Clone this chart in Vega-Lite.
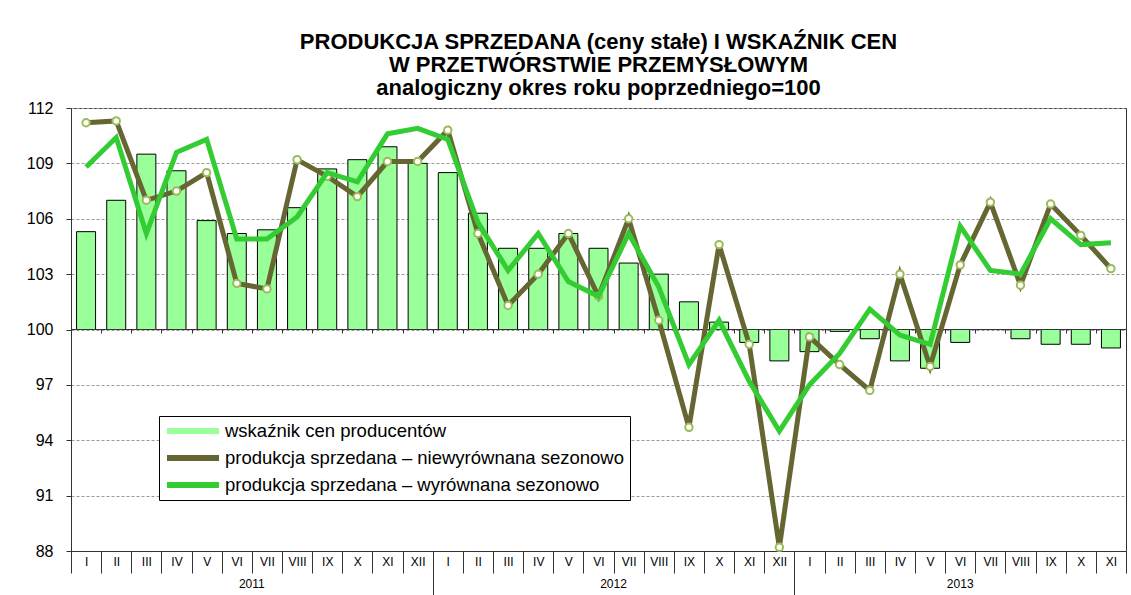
{
  "$schema": "https://vega.github.io/schema/vega-lite/v6.json",
  "width": 1055,
  "height": 443,
  "autosize": {"type": "none"},
  "padding": {"left": 71, "top": 108, "right": 5, "bottom": 44},
  "background": "white",
  "title": {
    "text": ["PRODUKCJA SPRZEDANA (ceny stałe)  I WSKAŹNIK CEN", "W PRZETWÓRSTWIE PRZEMYSŁOWYM"],
    "subtitle": "analogiczny okres roku poprzedniego=100",
    "font": "Liberation Sans", "fontSize": 22, "fontWeight": "bold", "color": "black",
    "subtitleFont": "Liberation Sans", "subtitleFontSize": 22, "subtitleFontWeight": "bold", "subtitleColor": "black",
    "lineHeight": 23, "subtitleLineHeight": 23, "subtitlePadding": 1,
    "anchor": "middle", "offset": 0
  },
  "config": {"view": {"stroke": "#333", "strokeWidth": 1}, "font": "Liberation Sans"},
  "data": {"values": [
    {"key": "2011-I", "prices": 105.3, "unadj": 111.2, "adj": 108.8},
    {"key": "2011-II", "prices": 107.0, "unadj": 111.3, "adj": 110.4},
    {"key": "2011-III", "prices": 109.5, "unadj": 107.0, "adj": 105.2},
    {"key": "2011-IV", "prices": 108.6, "unadj": 107.5, "adj": 109.6},
    {"key": "2011-V", "prices": 105.9, "unadj": 108.5, "adj": 110.3},
    {"key": "2011-VI", "prices": 105.2, "unadj": 102.5, "adj": 104.9},
    {"key": "2011-VII", "prices": 105.4, "unadj": 102.2, "adj": 104.9},
    {"key": "2011-VIII", "prices": 106.6, "unadj": 109.2, "adj": 106.1},
    {"key": "2011-IX", "prices": 108.7, "unadj": 108.3, "adj": 108.5},
    {"key": "2011-X", "prices": 109.2, "unadj": 107.2, "adj": 108.0},
    {"key": "2011-XI", "prices": 109.9, "unadj": 109.1, "adj": 110.6},
    {"key": "2011-XII", "prices": 109.0, "unadj": 109.1, "adj": 110.9},
    {"key": "2012-I", "prices": 108.5, "unadj": 110.8, "adj": 110.3},
    {"key": "2012-II", "prices": 106.3, "unadj": 105.2, "adj": 105.8},
    {"key": "2012-III", "prices": 104.4, "unadj": 101.3, "adj": 103.2},
    {"key": "2012-IV", "prices": 104.4, "unadj": 103.0, "adj": 105.2},
    {"key": "2012-V", "prices": 105.2, "unadj": 105.2, "adj": 102.6},
    {"key": "2012-VI", "prices": 104.4, "unadj": 101.8, "adj": 101.8},
    {"key": "2012-VII", "prices": 103.6, "unadj": 106.0, "adj": 105.2},
    {"key": "2012-VIII", "prices": 103.0, "unadj": 100.5, "adj": 102.3},
    {"key": "2012-IX", "prices": 101.5, "unadj": 94.7, "adj": 98.1},
    {"key": "2012-X", "prices": 100.4, "unadj": 104.6, "adj": 100.5},
    {"key": "2012-XI", "prices": 99.3, "unadj": 99.2, "adj": 97.2},
    {"key": "2012-XII", "prices": 98.3, "unadj": 88.2, "adj": 94.5},
    {"key": "2013-I", "prices": 98.8, "unadj": 99.6, "adj": 97.0},
    {"key": "2013-II", "prices": 99.9, "unadj": 98.1, "adj": 98.7},
    {"key": "2013-III", "prices": 99.5, "unadj": 96.7, "adj": 101.1},
    {"key": "2013-IV", "prices": 98.3, "unadj": 103.0, "adj": 99.7},
    {"key": "2013-V", "prices": 97.9, "unadj": 98.0, "adj": 99.2},
    {"key": "2013-VI", "prices": 99.3, "unadj": 103.5, "adj": 105.6},
    {"key": "2013-VII", "prices": 100.0, "unadj": 106.9, "adj": 103.2},
    {"key": "2013-VIII", "prices": 99.5, "unadj": 102.4, "adj": 103.0},
    {"key": "2013-IX", "prices": 99.2, "unadj": 106.8, "adj": 106.0},
    {"key": "2013-X", "prices": 99.2, "unadj": 105.1, "adj": 104.6},
    {"key": "2013-XI", "prices": 99.0, "unadj": 103.3, "adj": 104.7}
  ]},
  "resolve": {"axis": {"x": "independent"}},
  "layer": [
    {
      "mark": {"type": "bar", "stroke": "black", "strokeWidth": 1, "width": {"band": 0.63}},
      "encoding": {
        "x": {"field": "key", "type": "nominal", "sort": null,
          "scale": {"paddingInner": 0, "paddingOuter": 0},
          "axis": {"title": null, "orient": "bottom", "labelExpr": "split(datum.value,'-')[1]", "labelAngle": 0,
            "tickBand": "extent", "tickSize": 22, "labelPadding": -17, "labelFontSize": 12,
            "labelColor": "black", "tickColor": "#333", "domainColor": "#333", "labelFont": "Liberation Sans"}},
        "y": {"field": "prices", "type": "quantitative",
          "scale": {"domain": [88, 112], "nice": false, "zero": false},
          "axis": {"title": null, "values": [88, 91, 94, 97, 100, 103, 106, 109, 112],
            "grid": true, "gridDash": [3, 2], "gridColor": "#999", "tickSize": 5, "labelPadding": 13,
            "labelFontSize": 16, "labelColor": "black", "domainColor": "#333", "tickColor": "#333",
            "labelFont": "Liberation Sans"}},
        "y2": {"datum": 100},
        "color": {"datum": "wskaźnik cen producentów",
          "scale": {"domain": ["wskaźnik cen producentów", "produkcja sprzedana – niewyrównana sezonowo", "produkcja sprzedana – wyrównana sezonowo"],
                    "range": ["#99FF99", "#666633", "#33CC33"]},
          "legend": {"title": null, "orient": "none", "legendX": 88, "legendY": 308,
            "strokeColor": "black", "fillColor": "white", "padding": 5,
            "labelFontSize": 18.5, "labelFont": "Liberation Sans", "labelColor": "black",
            "symbolSize": 400, "symbolOffset": 19, "labelOffset": 22, "labelLimit": 600, "rowPadding": 7,
            "symbolType": "M-2.6,-0.3H2.6V0.3H-2.6Z", "symbolStrokeWidth": 0, "symbolOpacity": 1}
        }
      }
    },
    {
      "mark": {"type": "rule", "color": "#333", "strokeWidth": 1},
      "encoding": {"y": {"datum": 100}}
    },
    {
      "mark": {"type": "line", "strokeWidth": 5},
      "encoding": {
        "x": {"field": "key", "type": "nominal", "sort": null,
          "axis": {"title": null, "orient": "bottom", "values": ["2011-XII", "2012-XII"], "tickOffset": 15.07, "tickSize": 44,
            "labels": false, "domain": false, "grid": false, "tickColor": "#333"}},
        "y": {"field": "unadj", "type": "quantitative"},
        "color": {"datum": "produkcja sprzedana – niewyrównana sezonowo"}
      }
    },
    {
      "mark": {"type": "point", "filled": true, "fill": "white", "stroke": "#9BBB59", "strokeWidth": 2, "size": 55, "opacity": 1},
      "encoding": {
        "x": {"field": "key", "type": "nominal", "sort": null,
          "axis": {"title": null, "orient": "bottom", "values": ["2011-VI", "2012-VI", "2013-VI"],
            "labelExpr": "split(datum.value,'-')[0]", "ticks": false, "tickSize": 0, "domain": false,
            "labelPadding": 27, "labelFontSize": 12, "labelColor": "black", "labelAngle": 0,
            "labelFont": "Liberation Sans",
            "labelOffset": {"condition": {"test": "datum.value == '2013-VI'", "value": 0}, "value": 15}}},
        "y": {"field": "unadj", "type": "quantitative"}
      }
    },
    {
      "mark": {"type": "line", "strokeWidth": 5},
      "encoding": {
        "x": {"field": "key", "type": "nominal", "sort": null,
          "axis": {"title": null, "orient": "bottom", "offset": -222, "tickBand": "extent", "tickSize": 4,
            "labels": false, "domain": false, "grid": false, "tickColor": "#333"}},
        "y": {"field": "adj", "type": "quantitative"},
        "color": {"datum": "produkcja sprzedana – wyrównana sezonowo"}
      }
    }
  ]
}
